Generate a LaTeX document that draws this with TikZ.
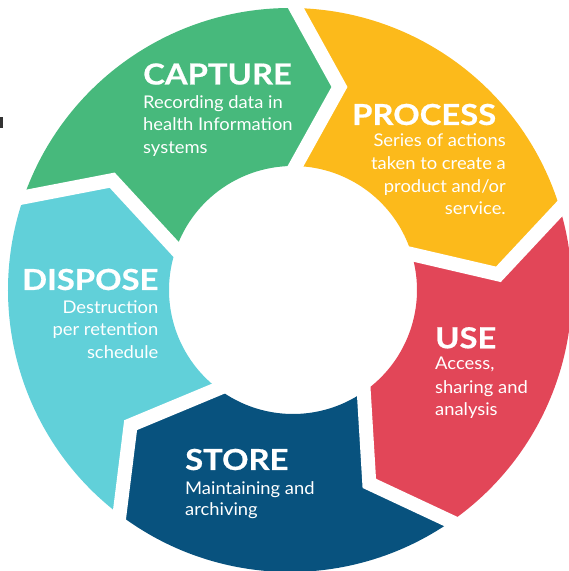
\documentclass[tikz,border=0pt]{standalone}
\usepackage{fontspec}
\setmainfont{Lato}
\newfontfamily\ttlfont{Lato}[FakeStretch=1.13, FakeBold=0.6]
\newfontfamily\bodyfont{Lato}[FakeStretch=1.05]
\usetikzlibrary{calc}
\definecolor{cgreen}{HTML}{47B97C}
\definecolor{cyellow}{HTML}{FCBA1B}
\definecolor{cred}{HTML}{E24658}
\definecolor{cblue}{HTML}{08527E}
\definecolor{ccyan}{HTML}{61D0D9}
\definecolor{cmark}{HTML}{333333}
\def\Ro{282}
\def\Ri{124}
\def\Rm{209}
\def\Tip{12.5}
\newcommand\ringseg[3]{%
 \fill[#1] ($(C1)+(#2:\Ro pt)$) arc[start angle=#2, end angle=#3, radius=\Ro pt]
   -- ($(C1)+(#3-\Tip:\Rm pt)$) -- ($(C2)+(#3:\Ri pt)$)
   arc[start angle=#3, end angle=#2, radius=\Ri pt]
   -- ($(C1)+(#2-\Tip:\Rm pt)$) -- cycle;}
\newcommand\ringgap[1]{%
 \coordinate (gO) at ($(C1)+(#1:\Ro pt)$);
 \coordinate (gT) at ($(C1)+(#1-\Tip:\Rm pt)$);
 \coordinate (gI) at ($(C2)+(#1:\Ri pt)$);
 \draw[gapline] ($(gT)!1.3!(gO)$) -- (gT) -- ($(gT)!1.6!(gI)$);}
\begin{document}
\begin{tikzpicture}[x=1pt,y=1pt,
  title/.style={font=\ttlfont\fontsize{29}{30}\selectfont\bfseries, text=white, inner sep=0pt},
  body/.style={font=\bodyfont\fontsize{17.5}{20}\selectfont, text=white, inner sep=0pt},
  gapline/.style={draw=white, line width=14pt, line join=miter}]
\useasboundingbox (0,0) rectangle (569,571);
\clip (0,0) rectangle (569,571);
\coordinate (C1) at (290,281);
\coordinate (C2) at (293,281);
\ringseg{cgreen}{160.8}{88.8}
\ringseg{cyellow}{88.8}{16.8}
\ringseg{cred}{16.8}{-55.2}
\ringseg{cblue}{-55.2}{-127.2}
\ringseg{ccyan}{-127.2}{-199.2}
\ringgap{160.8}
\ringgap{88.8}
\ringgap{16.8}
\ringgap{-55.2}
\ringgap{-127.2}
\fill[cmark] (0,443) rectangle (2.5,454);
% CAPTURE
\node[title, anchor=base west] (capT) at (143,486.5) {CAPTURE};
\node[body, anchor=base west] (cap1) at (143,462.7) {Recording data in};
\node[body, anchor=base west] (cap2) at (143,440) {health Information};
\node[body, anchor=base west] (cap3) at (143,417.7) {systems};
% PROCESS
\node[title, anchor=base west] (proT) at (352,446) {PROCESS};
\node[body, anchor=base east] (pro1) at (506,424.3) {Series of actions};
\node[body, anchor=base east] (pro2) at (506,401) {taken to create a};
\node[body, anchor=base east] (pro3) at (506,378.3) {product and/or};
\node[body, anchor=base east] (pro4) at (506,356.7) {service.};
% DISPOSE
\node[title, anchor=base west] (disT) at (22,281) {DISPOSE};
\node[body, anchor=base east] (dis1) at (158.5,257.7) {Destruction};
\node[body, anchor=base east] (dis2) at (158.5,235.2) {per retention};
\node[body, anchor=base east] (dis3) at (158.5,212.7) {schedule};
% STORE
\node[title, anchor=base west] (stoT) at (185,101) {STORE};
\node[body, anchor=base west] (sto1) at (185,76.7) {Maintaining and};
\node[body, anchor=base west] (sto2) at (185,55) {archiving};
% USE
\node[title, anchor=base west] (useT) at (435,222.7) {USE};
\node[body, anchor=base west] (use1) at (435,201) {Access,};
\node[body, anchor=base west] (use2) at (435,177.7) {sharing and};
\node[body, anchor=base west] (use3) at (435,155.3) {analysis};
\end{tikzpicture}
\end{document}
